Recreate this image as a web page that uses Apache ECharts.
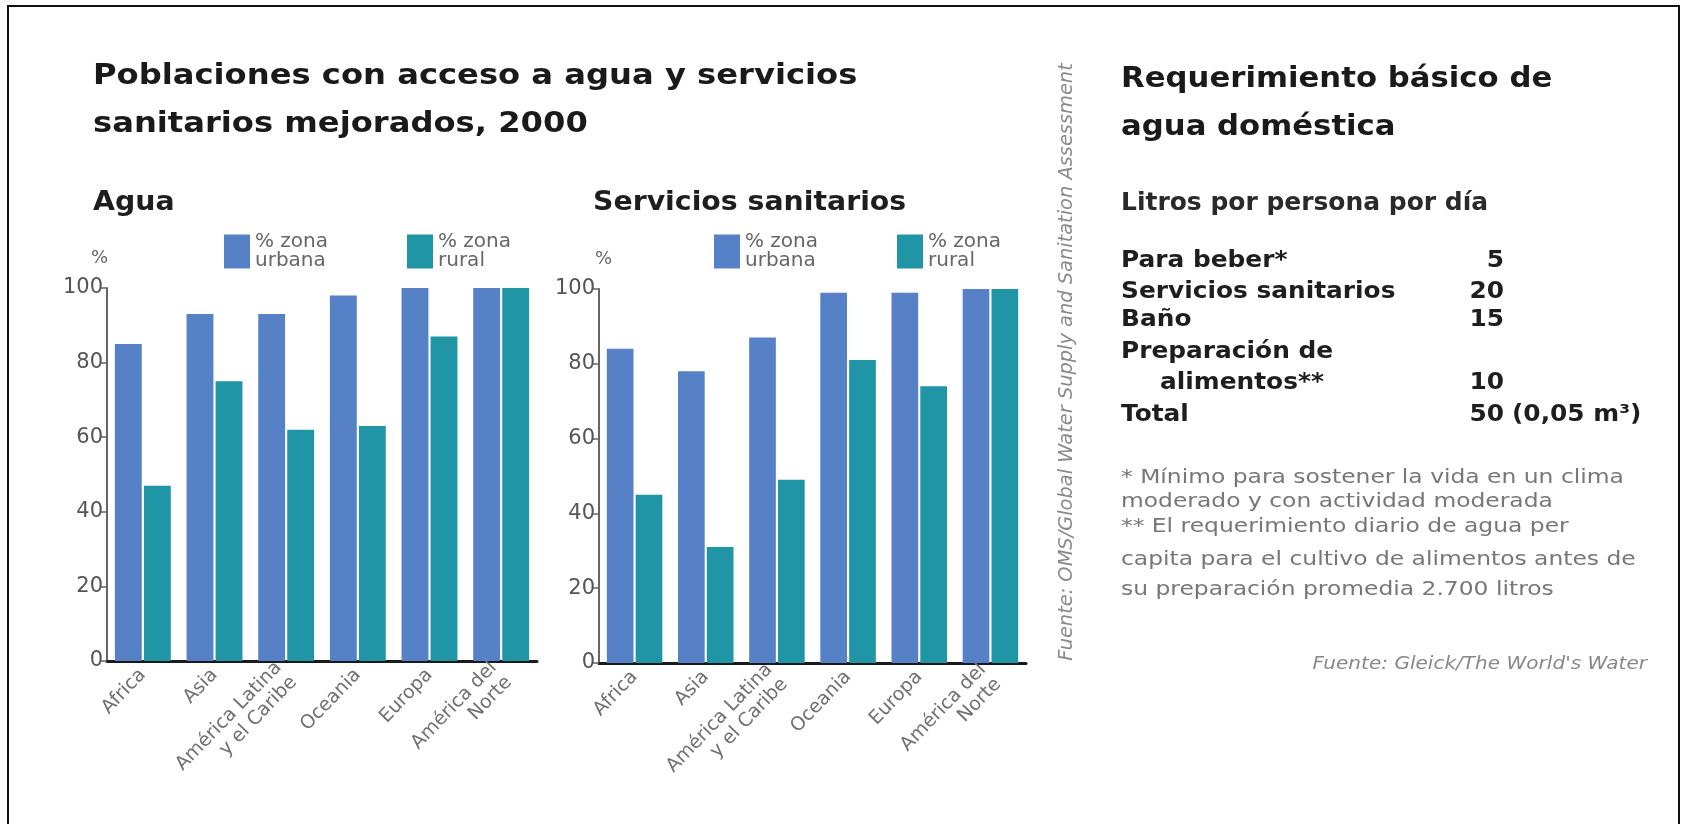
<!DOCTYPE html>
<html><head><meta charset="utf-8">
<script src="https://cdn.jsdelivr.net/npm/echarts@6/dist/echarts.min.js"></script>
<style>html,body{margin:0;padding:0;background:#fff}#c{width:1682px;height:824px}</style>
</head><body><div id="c"></div>
<script>
// ---- data ----
const categories = ['Africa', 'Asia', 'América Latina\ny el Caribe', 'Oceania', 'Europa', 'América del\nNorte'];
const aguaUrbana = [85, 93, 93, 98, 100, 100];
const aguaRural = [47, 75, 62, 63, 87, 100];
const saneUrbana = [84, 78, 87, 99, 99, 100];
const saneRural = [45, 31, 49, 81, 74, 100];
const seriesNames = ['% zona urbana', '% zona rural'];
const yMin = 0, yMax = 100, yInterval = 20;
const tableLabels = ['Para beber*', 'Servicios sanitarios', 'Baño', 'Preparación de', 'alimentos**', 'Total'];
const tableValues = ['5', '20', '15', '', '10', '50'];
const totalExtra = '(0,05 m³)';
const notes = ['* Mínimo para sostener la vida en un clima', 'moderado y con actividad moderada', '** El requerimiento diario de agua per', 'capita para el cultivo de alimentos antes de', 'su preparación promedia 2.700 litros'];

const URB = '#5781c7', RUR = '#2095a6';
const F = "'DejaVu Sans'";

const chart = echarts.init(document.getElementById('c'));

function yAxis(gi) {
  return {
    type: 'value', gridIndex: gi, min: yMin, max: yMax, interval: yInterval,
    axisLine: { show: true, lineStyle: { color: '#666', width: 2 } },
    axisTick: { show: true, length: 7, lineStyle: { color: '#666', width: 1.5 } },
    axisLabel: { color: '#555', fontSize: 21, fontFamily: F, margin: 4 },
    splitLine: { show: false }
  };
}
function xAxis(gi) {
  return {
    type: 'category', gridIndex: gi, data: categories,
    axisLine: { show: true, lineStyle: { color: '#1a1a1a', width: 3 } },
    axisTick: { show: false },
    axisLabel: { color: '#707070', fontSize: 19, fontFamily: F, rotate: 46, interval: 0, margin: 11, lineHeight: 21 }
  };
}
function bar(name, data, gi, color) {
  return {
    type: 'bar', name: name, xAxisIndex: gi, yAxisIndex: gi, data: data,
    barCategoryGap: '22%', barGap: '8%',
    itemStyle: { color: color }, silent: true
  };
}
function legend(name, left, top) {
  return {
    data: [name], left: left, top: top, padding: 0, orient: 'vertical',
    itemWidth: 26, itemHeight: 34, icon: 'rect', selectedMode: false,
    formatter: n => n.replace(' zona ', ' zona\n'),
    textStyle: { color: '#666', fontSize: 20, fontFamily: F, lineHeight: 19 }
  };
}
function txt(text, x, y, font, fill, align, sx) {
  return { type: 'text', x: x, y: y, scaleX: sx || 1, silent: true,
    style: { text: text, font: font, fill: fill, textAlign: align || 'left', align: align || 'left', textVerticalAlign: 'middle', verticalAlign: 'middle' } };
}

const graphics = [
  { type: 'rect', shape: { x: 8, y: 6, width: 1671, height: 840 }, style: { fill: 'none', stroke: '#111', lineWidth: 2 }, silent: true },
  txt('Poblaciones con acceso a agua y servicios', 93, 76, "bold 29px " + F, '#1a1a1a', 'left', 1.11),
  txt('sanitarios mejorados, 2000', 93, 124, "bold 29px " + F, '#1a1a1a', 'left', 1.11),
  txt('Agua', 93, 203, "bold 27px " + F, '#1e1e1e', 'left', 1.05),
  txt('Servicios sanitarios', 593, 203, "bold 27px " + F, '#1e1e1e', 'left', 1.05),
  txt('%', 91, 258, "18px " + F, '#666'),
  txt('%', 595, 259, "18px " + F, '#666'),
  txt('Requerimiento básico de', 1121, 79, "bold 29px " + F, '#1a1a1a', 'left', 1.06),
  txt('agua doméstica', 1121, 127, "bold 29px " + F, '#1a1a1a', 'left', 1.06),
  txt('Litros por persona por día', 1121, 204, "bold 24px " + F, '#2a2a2a', 'left', 1.04),
  { type: 'text', x: 1067, y: 362, rotation: Math.PI / 2, silent: true,
    style: { text: 'Fuente: OMS/Global Water Supply and Sanitation Assessment', font: "oblique 19.4px " + F, fill: '#8a8a8a', textAlign: 'center', align: 'center', textVerticalAlign: 'middle', verticalAlign: 'middle' } },
  txt("Fuente: Gleick/The World's Water", 1647, 665, "oblique 17px " + F, '#888', 'right', 1.18)
];
const rowMid = [261, 292, 320, 352, 383, 415];
tableLabels.forEach((l, i) => {
  graphics.push(txt(l, i === 4 ? 1160 : 1121, rowMid[i], "bold 23px " + F, '#1e1e1e', 'left', 1.08));
  if (tableValues[i]) graphics.push(txt(tableValues[i], 1504, rowMid[i], "bold 23px " + F, '#1e1e1e', 'right', 1.08));
});
graphics.push(txt(totalExtra, 1512, rowMid[5], "bold 23px " + F, '#1e1e1e', 'left', 1.08));
const noteMid = [478, 502, 527, 560, 590];
notes.forEach((n, i) => graphics.push(txt(n, 1121, noteMid[i], "20px " + F, '#777', 'left', 1.17)));

chart.setOption({
  backgroundColor: '#fff',
  animation: false,
  grid: [
    { left: 107, top: 288, width: 430, height: 373 },
    { left: 599, top: 289, width: 427, height: 374 }
  ],
  xAxis: [xAxis(0), xAxis(1)],
  yAxis: [yAxis(0), yAxis(1)],
  color: [URB, RUR],
  legend: [
    legend(seriesNames[0], 224, 232),
    legend(seriesNames[1], 407, 232),
    legend(seriesNames[0], 714, 232),
    legend(seriesNames[1], 897, 232)
  ],
  series: [
    bar(seriesNames[0], aguaUrbana, 0, URB),
    bar(seriesNames[1], aguaRural, 0, RUR),
    bar(seriesNames[0], saneUrbana, 1, URB),
    bar(seriesNames[1], saneRural, 1, RUR)
  ],
  graphic: graphics
});
</script></body></html>
